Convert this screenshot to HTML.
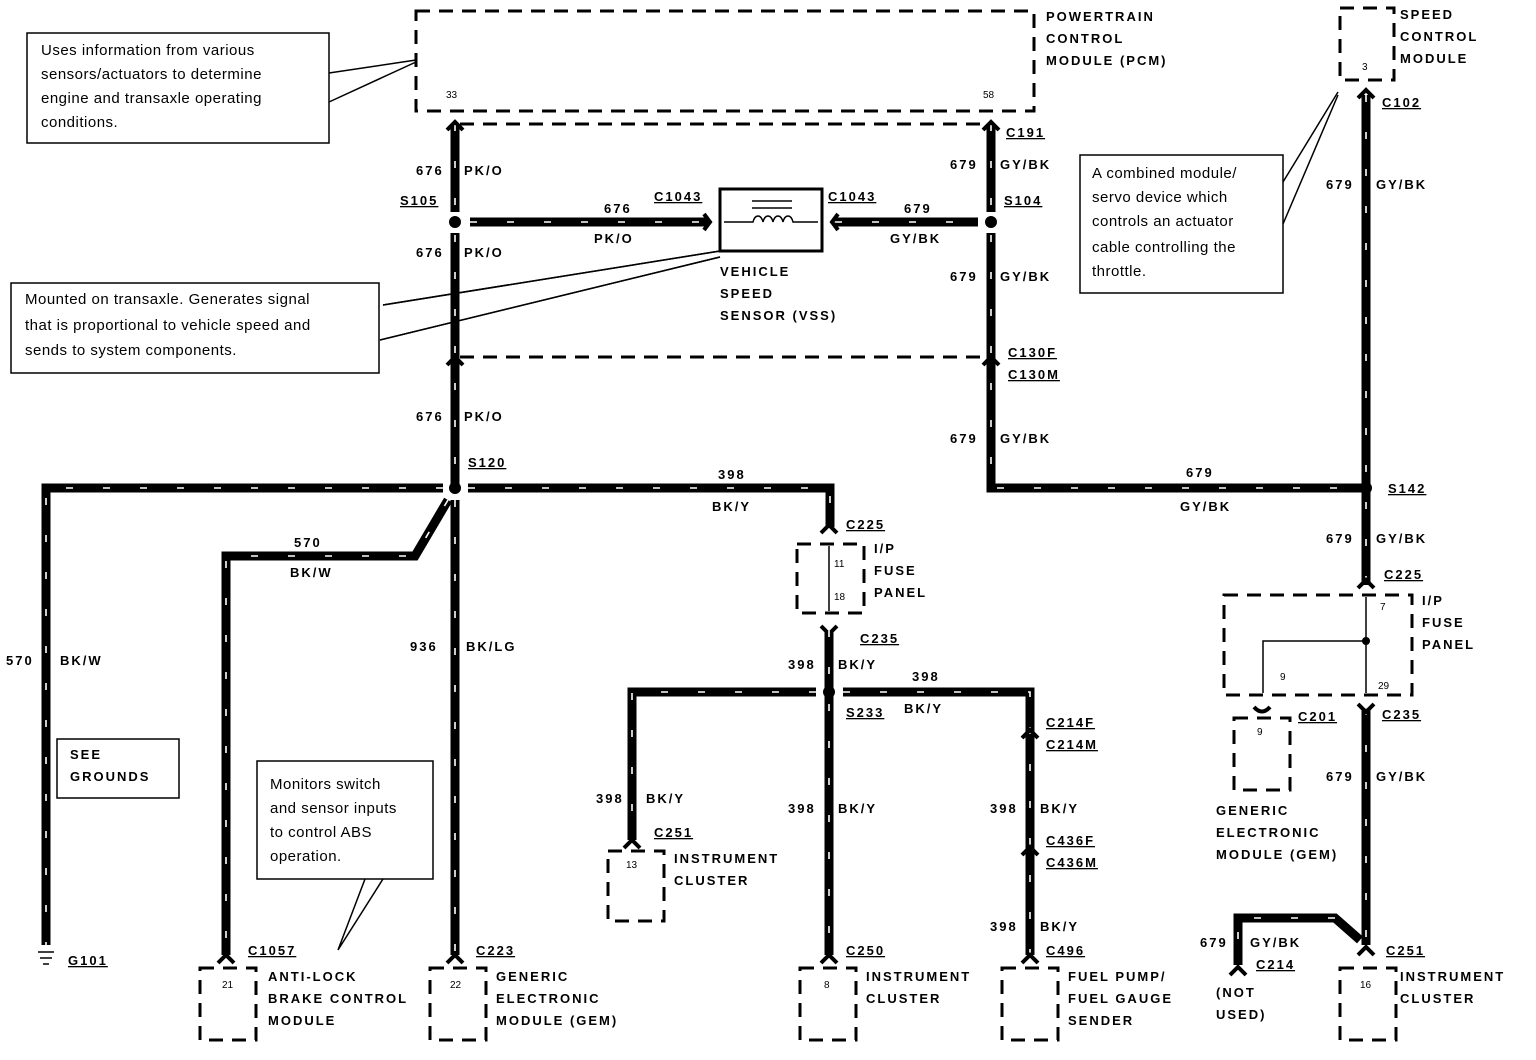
<!DOCTYPE html>
<html><head><meta charset="utf-8"><style>
html,body{margin:0;padding:0;background:#fff}
svg{display:block}
.w{stroke:#000;stroke-width:9;fill:none;stroke-linejoin:miter}
.wd{stroke:#fff;stroke-width:1.6;fill:none;stroke-dasharray:7 30}
.d{stroke:#000;stroke-width:3;fill:none;stroke-dasharray:14 9}
.t{font-family:"Liberation Sans",sans-serif;font-weight:bold;font-size:13px;letter-spacing:2px;fill:#000}
.u{text-decoration:underline}
.s{font-family:"Liberation Sans",sans-serif;font-size:10px;fill:#000}
.c{font-family:"Liberation Sans",sans-serif;font-size:15px;fill:#000;letter-spacing:0.5px}
.b{stroke:#000;stroke-width:1.5;fill:#fff}
.l{stroke:#000;stroke-width:1.5;fill:none}
.k{stroke:#000;stroke-width:4;fill:none}
</style></head><body>
<svg width="1536" height="1060" viewBox="0 0 1536 1060" xmlns="http://www.w3.org/2000/svg">
<!-- PCM -->
<rect x="416" y="11" width="618" height="100" class="d"/>
<text x="446" y="98" class="s">33</text><text x="983" y="98" class="s">58</text>
<text x="1046" y="21" class="t">POWERTRAIN</text><text x="1046" y="43" class="t">CONTROL</text><text x="1046" y="65" class="t">MODULE (PCM)</text>
<line x1="460" y1="124" x2="986" y2="124" class="d" stroke-width="2"/>
<line x1="460" y1="357" x2="986" y2="357" class="d" stroke-width="2"/>
<!-- left vertical 676 -->
<path d="M455 124V212M455 233V488" class="w"/><path d="M455 124V488" class="wd"/>
<path d="M991 124V212M991 233V488H1366" class="w"/><path d="M991 124V488H1366" class="wd"/>
<circle cx="455" cy="222" r="6"/><circle cx="991" cy="222" r="6"/>
<path d="M447 130L455 122L463 130M447 365L455 357L463 365M983 130L991 122L999 130M983 365L991 357L999 365" class="k"/>
<path d="M470 222H708" class="w"/><path d="M470 222H708" class="wd"/>
<path d="M835 222H978" class="w"/><path d="M835 222H978" class="wd"/>
<path d="M704 214L710 222L704 230M838 214L832 222L838 230" class="k"/>
<rect x="720" y="189" width="102" height="62" stroke="#000" stroke-width="3" fill="#fff"/>
<path d="M752 201H792M752 208H792M724 222H753c2-8 8-8 10 0c2-8 8-8 10 0c2-8 8-8 10 0c2-8 8-8 10 0H818" class="l"/>
<path d="M720 251L383 305M720 257L380 340" class="l"/>
<text x="720" y="276" class="t">VEHICLE</text><text x="720" y="298" class="t">SPEED</text><text x="720" y="320" class="t">SENSOR (VSS)</text>
<text x="654" y="201" class="t u">C1043</text><text x="828" y="201" class="t u">C1043</text>
<text x="604" y="213" class="t">676</text><text x="594" y="243" class="t">PK/O</text>
<text x="904" y="213" class="t">679</text><text x="890" y="243" class="t">GY/BK</text>
<text x="416" y="175" class="t">676</text><text x="464" y="175" class="t">PK/O</text>
<text x="400" y="205" class="t u">S105</text>
<text x="416" y="257" class="t">676</text><text x="464" y="257" class="t">PK/O</text>
<text x="416" y="421" class="t">676</text><text x="464" y="421" class="t">PK/O</text>
<text x="1006" y="137" class="t u">C191</text>
<text x="950" y="169" class="t">679</text><text x="1000" y="169" class="t">GY/BK</text>
<text x="1004" y="205" class="t u">S104</text>
<text x="950" y="281" class="t">679</text><text x="1000" y="281" class="t">GY/BK</text>
<text x="1008" y="357" class="t u">C130F</text><text x="1008" y="379" class="t u">C130M</text>
<text x="950" y="443" class="t">679</text><text x="1000" y="443" class="t">GY/BK</text>
<text x="1186" y="477" class="t">679</text><text x="1180" y="511" class="t">GY/BK</text>
<!-- callouts -->
<rect x="27" y="33" width="302" height="110" class="b"/>
<text x="41" y="55" class="c">Uses information from various</text><text x="41" y="79" class="c">sensors/actuators to determine</text><text x="41" y="103" class="c">engine and transaxle operating</text><text x="41" y="127" class="c">conditions.</text>
<path d="M329 73L416 60M329 102L416 62" class="l"/>
<rect x="11" y="283" width="368" height="90" class="b"/>
<text x="25" y="304" class="c">Mounted on transaxle. Generates signal</text><text x="25" y="330" class="c">that is proportional to vehicle speed and</text><text x="25" y="355" class="c">sends to system components.</text>
<path d="M720 251L383 305M720 257L380 340" class="l"/>
<rect x="1080" y="155" width="203" height="138" class="b"/>
<text x="1092" y="178" class="c">A combined module/</text><text x="1092" y="202" class="c">servo device which</text><text x="1092" y="226" class="c">controls an actuator</text><text x="1092" y="252" class="c">cable controlling the</text><text x="1092" y="276" class="c">throttle.</text>
<path d="M1283 182L1338 92M1283 224L1338 95" class="l"/>
<rect x="257" y="761" width="176" height="118" class="b"/>
<text x="270" y="789" class="c">Monitors switch</text><text x="270" y="813" class="c">and sensor inputs</text><text x="270" y="837" class="c">to control ABS</text><text x="270" y="861" class="c">operation.</text>
<path d="M338 950L365 879M338 950L383 879" class="l"/>
<rect x="57" y="739" width="122" height="59" class="b"/>
<text x="70" y="759" class="t">SEE</text><text x="70" y="781" class="t">GROUNDS</text>
<!-- speed control -->
<rect x="1340" y="8" width="54" height="72" class="d"/>
<text x="1362" y="70" class="s">3</text>
<text x="1400" y="19" class="t">SPEED</text><text x="1400" y="41" class="t">CONTROL</text><text x="1400" y="63" class="t">MODULE</text>
<path d="M1366 95V585" class="w"/><path d="M1366 95V585" class="wd"/>
<path d="M1358 98L1366 90L1374 98" class="k"/>
<text x="1382" y="107" class="t u">C102</text>
<text x="1326" y="189" class="t">679</text><text x="1376" y="189" class="t">GY/BK</text>
<circle cx="1366" cy="488" r="6"/><text x="1388" y="493" class="t u">S142</text>
<text x="1326" y="543" class="t">679</text><text x="1376" y="543" class="t">GY/BK</text>
<path d="M1358 588L1366 580L1374 588" class="k"/>
<text x="1384" y="579" class="t u">C225</text>
<rect x="1224" y="595" width="188" height="100" class="d"/>
<path d="M1366 597V693M1366 641H1263V693" class="l"/><circle cx="1366" cy="641" r="4"/>
<text x="1380" y="610" class="s">7</text><text x="1280" y="680" class="s">9</text><text x="1378" y="689" class="s">29</text>
<text x="1422" y="605" class="t">I/P</text><text x="1422" y="627" class="t">FUSE</text><text x="1422" y="649" class="t">PANEL</text>
<path d="M1254 707Q1262 716 1270 707" class="k"/>
<rect x="1234" y="718" width="56" height="72" class="d"/>
<text x="1257" y="735" class="s">9</text>
<text x="1298" y="721" class="t u">C201</text>
<text x="1216" y="815" class="t">GENERIC</text><text x="1216" y="837" class="t">ELECTRONIC</text><text x="1216" y="859" class="t">MODULE (GEM)</text>
<path d="M1366 708V945M1360 940L1335 918H1238V965" class="w"/><path d="M1366 708V945M1335 918H1238V965" class="wd"/>
<path d="M1358 704L1366 712L1374 704" class="k"/>
<text x="1382" y="719" class="t u">C235</text>
<text x="1326" y="781" class="t">679</text><text x="1376" y="781" class="t">GY/BK</text>
<path d="M1358 955L1366 947L1374 955M1230 975L1238 967L1246 975" class="k"/>
<text x="1200" y="947" class="t">679</text><text x="1250" y="947" class="t">GY/BK</text>
<text x="1256" y="969" class="t u">C214</text>
<text x="1216" y="997" class="t">(NOT</text><text x="1216" y="1019" class="t">USED)</text>
<text x="1386" y="955" class="t u">C251</text>
<rect x="1340" y="968" width="56" height="72" class="d"/><text x="1360" y="988" class="s">16</text>
<text x="1400" y="981" class="t">INSTRUMENT</text><text x="1400" y="1003" class="t">CLUSTER</text>
<!-- S120 -->
<circle cx="455" cy="488" r="6"/>
<text x="468" y="467" class="t u">S120</text>
<path d="M443 488H46V945" class="w"/><path d="M443 488H46V945" class="wd"/>
<path d="M468 488H830V527" class="w"/><path d="M468 488H830V527" class="wd"/>
<text x="718" y="479" class="t">398</text><text x="712" y="511" class="t">BK/Y</text>
<path d="M448 500L415 556H226V955" class="w"/><path d="M448 500L415 556H226V955" class="wd"/>
<text x="294" y="547" class="t">570</text><text x="290" y="577" class="t">BK/W</text>
<path d="M455 500V955" class="w"/><path d="M455 500V955" class="wd"/>
<text x="410" y="651" class="t">936</text><text x="466" y="651" class="t">BK/LG</text>
<text x="6" y="665" class="t">570</text><text x="60" y="665" class="t">BK/W</text>
<path d="M38 952H54M40 958H52M43 964H49" class="l" stroke-width="2"/>
<text x="68" y="965" class="t u">G101</text>
<path d="M218 963L226 955L234 963M447 963L455 955L463 963" class="k"/>
<text x="248" y="955" class="t u">C1057</text><text x="476" y="955" class="t u">C223</text>
<rect x="200" y="968" width="56" height="72" class="d"/><text x="222" y="988" class="s">21</text>
<text x="268" y="981" class="t">ANTI-LOCK</text><text x="268" y="1003" class="t">BRAKE CONTROL</text><text x="268" y="1025" class="t">MODULE</text>
<rect x="430" y="968" width="56" height="72" class="d"/><text x="450" y="988" class="s">22</text>
<text x="496" y="981" class="t">GENERIC</text><text x="496" y="1003" class="t">ELECTRONIC</text><text x="496" y="1025" class="t">MODULE (GEM)</text>
<!-- middle fuse panel -->
<path d="M821 533L829 525L837 533" class="k"/>
<text x="846" y="529" class="t u">C225</text>
<rect x="797" y="544" width="67" height="69" class="d"/>
<path d="M829 546V611" class="l"/>
<text x="834" y="567" class="s">11</text><text x="834" y="600" class="s">18</text>
<text x="874" y="553" class="t">I/P</text><text x="874" y="575" class="t">FUSE</text><text x="874" y="597" class="t">PANEL</text>
<path d="M821 626L829 634L837 626" class="k"/>
<text x="860" y="643" class="t u">C235</text>
<path d="M829 630V955M816 692H632V840M843 692H1030V955" class="w"/><path d="M829 630V955M816 692H632V840M843 692H1030V955" class="wd"/>
<circle cx="829" cy="692" r="6"/>
<text x="788" y="669" class="t">398</text><text x="838" y="669" class="t">BK/Y</text>
<text x="912" y="681" class="t">398</text><text x="904" y="713" class="t">BK/Y</text>
<text x="846" y="717" class="t u">S233</text>
<text x="596" y="803" class="t">398</text><text x="646" y="803" class="t">BK/Y</text>
<text x="788" y="813" class="t">398</text><text x="838" y="813" class="t">BK/Y</text>
<text x="990" y="813" class="t">398</text><text x="1040" y="813" class="t">BK/Y</text>
<text x="990" y="931" class="t">398</text><text x="1040" y="931" class="t">BK/Y</text>
<path d="M1022 738L1030 730L1038 738M1022 855L1030 847L1038 855" class="k"/>
<text x="1046" y="727" class="t u">C214F</text><text x="1046" y="749" class="t u">C214M</text>
<text x="1046" y="845" class="t u">C436F</text><text x="1046" y="867" class="t u">C436M</text>
<path d="M624 848L632 840L640 848M821 963L829 955L837 963M1022 963L1030 955L1038 963" class="k"/>
<text x="654" y="837" class="t u">C251</text>
<rect x="608" y="851" width="56" height="70" class="d"/><text x="626" y="868" class="s">13</text>
<text x="674" y="863" class="t">INSTRUMENT</text><text x="674" y="885" class="t">CLUSTER</text>
<text x="846" y="955" class="t u">C250</text><text x="1046" y="955" class="t u">C496</text>
<rect x="800" y="968" width="56" height="72" class="d"/><text x="824" y="988" class="s">8</text>
<text x="866" y="981" class="t">INSTRUMENT</text><text x="866" y="1003" class="t">CLUSTER</text>
<rect x="1002" y="968" width="56" height="72" class="d"/>
<text x="1068" y="981" class="t">FUEL PUMP/</text><text x="1068" y="1003" class="t">FUEL GAUGE</text><text x="1068" y="1025" class="t">SENDER</text>
</svg>
</body></html>
